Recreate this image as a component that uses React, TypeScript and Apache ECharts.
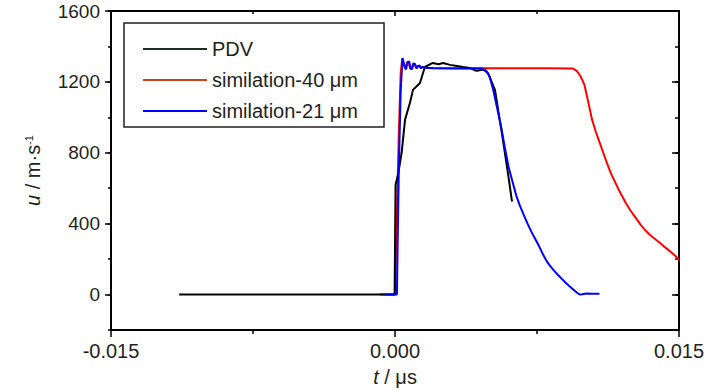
import React, { useEffect, useRef } from "react";
import * as echarts from "echarts";

// t (μs) , u (m/s)
const pdvData: number[][] = [
  [-0.0114, 0], [-0.00002, 0], [0.00003, 620], [0.00016, 676], [0.00035, 800], [0.00053, 986],
  [0.00079, 1082], [0.00095, 1155], [0.00132, 1194], [0.00148, 1250], [0.00158, 1284],
  [0.002, 1307], [0.0023, 1300], [0.00254, 1307], [0.0029, 1296], [0.00327, 1290],
  [0.0036, 1284], [0.00396, 1279], [0.0042, 1266], [0.00433, 1262], [0.00465, 1270],
  [0.00491, 1250], [0.00528, 1155], [0.0057, 873], [0.006, 660], [0.00618, 524],
];

const sim40Data: number[][] = [
  [-0.0008, 0], [0.0, 0], [0.0001, 450], [0.0002, 900], [0.0003, 1250], [0.00038, 1330],
  [0.00046, 1298], [0.00055, 1272], [0.00064, 1312], [0.00072, 1310], [0.0008, 1276],
  [0.00088, 1274], [0.00096, 1304], [0.00104, 1298], [0.00112, 1278], [0.0012, 1290],
  [0.00128, 1290], [0.00136, 1278], [0.00144, 1285], [0.00156, 1280], [0.002, 1278],
  [0.004, 1277], [0.006, 1277], [0.008, 1277], [0.0094, 1275], [0.0096, 1262],
  [0.0098, 1232], [0.01, 1185], [0.0102, 1090], [0.0104, 990], [0.0106, 920],
  [0.0108, 860], [0.011, 800], [0.0112, 740], [0.0114, 685], [0.0116, 640], [0.0118, 595],
  [0.012, 555], [0.0122, 515], [0.0124, 480], [0.0126, 450], [0.0128, 420], [0.013, 390],
  [0.0132, 365], [0.0134, 343], [0.0136, 325], [0.0138, 308], [0.014, 291], [0.0142, 272],
  [0.0144, 255], [0.0146, 237], [0.0148, 219], [0.015, 196],
];

const sim21Data: number[][] = [
  [-0.00053, 0], [0.0001, 0], [0.0002, 700], [0.0003, 1150], [0.0004, 1335], [0.00048, 1300],
  [0.00058, 1270], [0.00066, 1310], [0.00075, 1315], [0.00082, 1275], [0.0009, 1272],
  [0.00098, 1305], [0.00106, 1300], [0.00114, 1276], [0.00122, 1290], [0.0013, 1292],
  [0.00138, 1276], [0.00146, 1285], [0.00158, 1280], [0.002, 1277], [0.003, 1276],
  [0.004, 1276], [0.0046, 1275], [0.0048, 1265], [0.005, 1230], [0.0052, 1150],
  [0.0054, 1050], [0.0056, 950], [0.0058, 830], [0.006, 720], [0.0062, 640], [0.0064, 560],
  [0.0066, 500], [0.0068, 450], [0.007, 400], [0.0072, 355], [0.0074, 315], [0.0076, 275],
  [0.0078, 230], [0.008, 190], [0.0082, 160], [0.0084, 135], [0.0086, 112], [0.0088, 90],
  [0.009, 68], [0.0092, 48], [0.0094, 30], [0.0096, 12], [0.00975, 0], [0.0099, 2],
  [0.0101, 6], [0.0104, 4], [0.0108, 4],
];

const seriesNames = ["PDV", "similation-40 μm", "similation-21 μm"];
const yMajorTicks = [0, 400, 800, 1200, 1600];

const FONT = "'Liberation Sans', Arial, sans-serif";
const TXT = "#231f20";

export default function App() {
  const ref = useRef<HTMLDivElement>(null);
  useEffect(() => {
    if (!ref.current) return;
    const chart = echarts.init(ref.current, null, { renderer: "svg" });
    const axisLine = { show: true, onZero: false, lineStyle: { color: "#000", width: 2 } };
    const tickStyle = { color: "#000", width: 1.5 };
    const xBase = {
      type: "value",
      min: -0.015,
      max: 0.015,
      interval: 0.015,
      axisLine,
      splitLine: { show: false },
      minorSplitLine: { show: false },
    };
    const yBase = {
      type: "value",
      min: -200,
      max: 1600,
      interval: 200,
      axisLine,
      splitLine: { show: false },
    };
    chart.setOption({
      animation: false,
      backgroundColor: "#fff",
      grid: { left: 111, right: 47, top: 11, bottom: 60, containLabel: false, outerBoundsMode: "none" },
      legend: {
        orient: "vertical",
        left: 124,
        top: 23,
        borderColor: "#231f20",
        borderWidth: 1.5,
        padding: [15, 26, 5, 19],
        icon: "rect",
        itemWidth: 64,
        itemHeight: 2,
        itemGap: 9,
        textStyle: { fontSize: 20, fontFamily: FONT, color: TXT, lineHeight: 22 },
        data: [
          { name: seriesNames[0], itemStyle: { color: "#1f2f1f" } },
          { name: seriesNames[1], itemStyle: { color: "#d0401a" } },
          { name: seriesNames[2], itemStyle: { color: "#0000ff" } },
        ],
      },
      xAxis: [
        {
          ...xBase,
          position: "bottom",
          axisTick: { show: true, length: 7, lineStyle: tickStyle },
          minorTick: { show: true, splitNumber: 2, length: 4, lineStyle: tickStyle },
          axisLabel: {
            formatter: (v: number) => (Math.abs(v) < 1e-9 ? "0.000" : v.toFixed(3)),
            fontSize: 20,
            fontFamily: FONT,
            color: TXT,
            margin: 11,
          },
          name: "{i|t} / μs",
          nameLocation: "middle",
          nameGap: 37,
          nameTextStyle: {
            fontSize: 20,
            fontFamily: FONT,
            color: TXT,
            rich: { i: { fontStyle: "italic", fontSize: 20, fontFamily: FONT, color: TXT } },
          },
        },
        {
          ...xBase,
          position: "top",
          axisTick: { show: true, inside: true, length: 5, lineStyle: tickStyle },
          minorTick: { show: true, splitNumber: 2, length: 3, lineStyle: tickStyle },
          axisLabel: { show: false },
        },
      ],
      yAxis: [
        {
          ...yBase,
          position: "left",
          axisTick: { show: true, length: 6, customValues: yMajorTicks, lineStyle: tickStyle },
          axisLabel: {
            customValues: yMajorTicks,
            formatter: (v: number) => String(Math.round(v)),
            fontSize: 19,
            fontFamily: FONT,
            color: TXT,
            margin: 11,
          },
          name: "{i|u} / m·s{sup|-1}",
          nameLocation: "middle",
          nameRotate: 90,
          nameGap: 68,
          nameTextStyle: {
            fontSize: 20,
            fontFamily: FONT,
            color: TXT,
            rich: {
              i: { fontStyle: "italic", fontSize: 20, fontFamily: FONT, color: TXT },
              sup: { fontSize: 11, fontFamily: FONT, color: TXT, verticalAlign: "top", padding: [0, 0, 8, 0] },
            },
          },
        },
        {
          ...yBase,
          position: "left",
          axisTick: { show: true, length: 3, lineStyle: tickStyle },
          axisLabel: { show: false },
        },
        {
          ...yBase,
          position: "right",
          axisTick: { show: true, inside: true, length: 7, customValues: yMajorTicks, lineStyle: tickStyle },
          axisLabel: { show: false },
        },
        {
          ...yBase,
          position: "right",
          axisTick: { show: true, inside: true, length: 4, lineStyle: tickStyle },
          axisLabel: { show: false },
        },
      ],
      series: [
        {
          name: seriesNames[0],
          type: "line",
          data: pdvData,
          symbol: "none",
          lineStyle: { color: "#000", width: 2 },
          itemStyle: { color: "#000" },
          z: 3,
        },
        {
          name: seriesNames[1],
          type: "line",
          data: sim40Data,
          symbol: "none",
          lineStyle: { color: "#ff0000", width: 2 },
          itemStyle: { color: "#ff0000" },
          z: 2,
        },
        {
          name: seriesNames[2],
          type: "line",
          data: sim21Data,
          symbol: "none",
          lineStyle: { color: "#0000ff", width: 2 },
          itemStyle: { color: "#0000ff" },
          z: 4,
        },
      ],
    });
    return () => chart.dispose();
  }, []);
  return <div ref={ref} style={{ width: 726, height: 390, position: "fixed", left: 0, top: 0 }} />;
}
